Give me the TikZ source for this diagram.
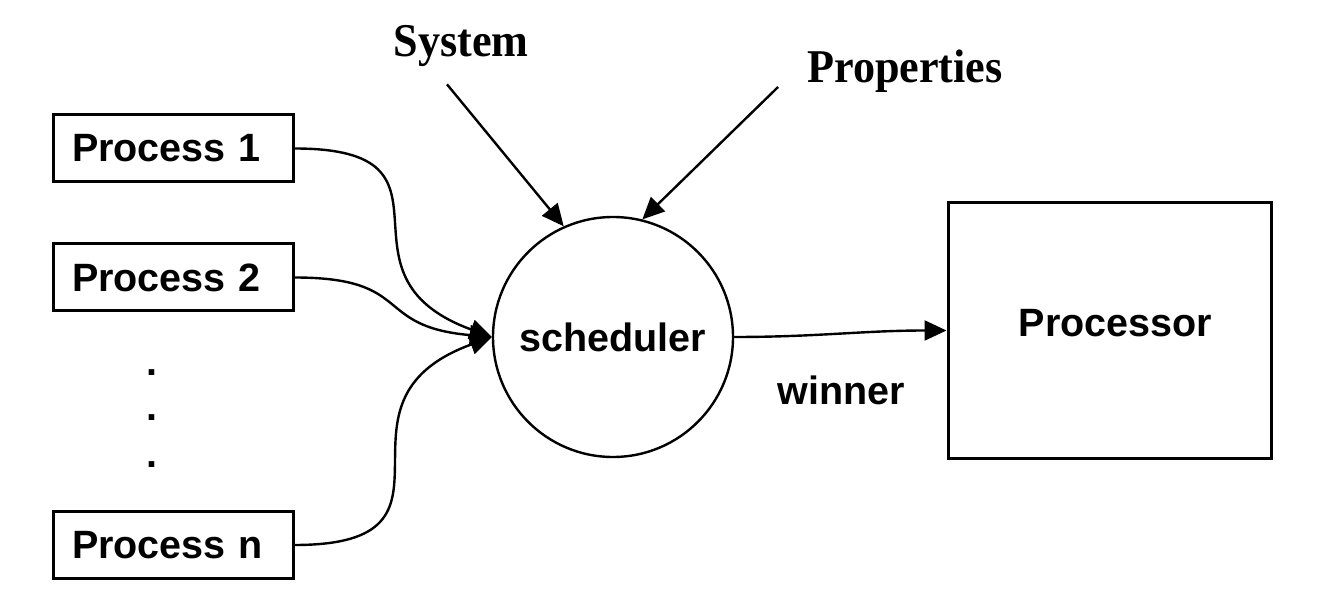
\documentclass[tikz,border=0pt]{standalone}
\usepackage{fontspec}
\setmainfont{Liberation Sans}
\newfontfamily\timesbf{Liberation Serif}[FakeStretch=0.94]
\usetikzlibrary{arrows.meta}

\begin{document}
\begin{tikzpicture}[x=0.5pt, y=-0.5pt, line width=1.2pt,
    >={Triangle[length=11pt,width=10pt]},
    sansbf/.style={font=\fontsize{19.75}{22}\selectfont\bfseries},
    procbox/.style={sansbf, draw, line width=1.5pt, rectangle, minimum height=33.5pt,
      text width=101pt, inner xsep=9.5pt, align=left},
    inlabel/.style={font=\fontsize{23.5}{26}\selectfont\timesbf\bfseries, inner sep=0pt, anchor=base}]
  \useasboundingbox (0,0) rectangle (1320,592);

  % Processos
  \node[procbox] (p1) at (173,148.5) {Process 1};
  \node[procbox] (p2) at (173,277.5) {Process 2};
  \node[procbox] (pn) at (173,545) {Process n};
  \node[sansbf, inner sep=0pt] (d1) at (152,373) {.};
  \node[sansbf, inner sep=0pt] (d2) at (152,418) {.};
  \node[sansbf, inner sep=0pt] (d3) at (152,465) {.};

  % Escalonador e processador
  \node[sansbf, draw, circle, minimum size=120pt, inner sep=0pt] (sched) at (613,337) {scheduler};
  \node[sansbf, draw, line width=1.5pt, rectangle, minimum width=161.5pt, minimum height=127.5pt]
    (proc) at (1109.5,330.5) {\hspace*{6pt}\raisebox{3.5pt}[\height][\depth]{Processor}};
  \node[sansbf, inner sep=0pt] (win) at (841,390) {winner};

  % Entradas de cima
  \node[inlabel] (sys) at (461,57) {System};
  \node[inlabel] (prop) at (905,83) {Properties};

  % Setas
  \draw[->] (p1.east) to[out=0, in=160, looseness=1.7] (sched.west);
  \draw[->] (p2.east) to[out=0, in=175, looseness=1.5] (sched.west);
  \draw[->] (pn.east) to[out=0, in=200, looseness=1.7] (sched.west);
  \draw[->] ([xshift=-7pt, yshift=-8pt]sys.south) -- (sched.114);
  \draw[->] ([xshift=-14pt, yshift=-2pt]prop.base west) -- (sched.76);
  \draw[->] (sched.east) to[out=0, in=180] (proc.west);
\end{tikzpicture}
\end{document}
